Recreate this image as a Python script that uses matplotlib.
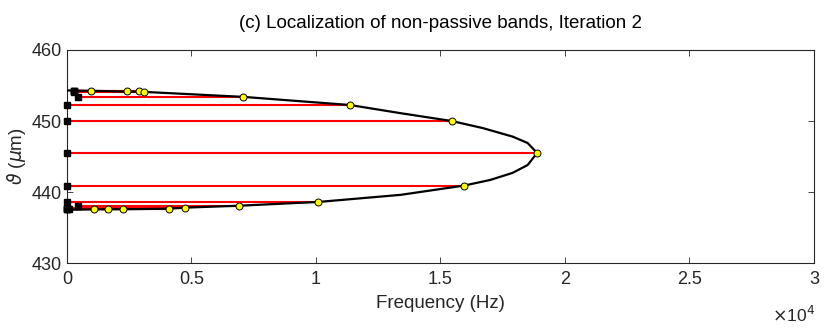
import matplotlib
matplotlib.use("Agg")
import matplotlib.pyplot as plt
from matplotlib.ticker import FuncFormatter
import numpy as np

plt.rcParams["font.family"] = ["Liberation Sans", "DejaVu Sans"]
plt.rcParams["mathtext.fontset"] = "dejavusans"

# band edges: theta (um), start frequency (Hz, black square), end frequency (Hz, yellow dot)
band_theta = [454.2, 454.2, 454.2, 454.1, 453.4, 452.25, 450.0, 445.5,
              440.9, 438.6, 438.07, 437.8, 437.65, 437.56, 437.56, 437.56]
band_fstart = [300, 300, 300, 300, 450, 0, 0, 0,
               0, 0, 450, 0, 0, 0, 0, 100]
band_fend = [960, 2400, 2900, 3100, 7070, 11370, 15450, 18880,
             15940, 10100, 6920, 4740, 4100, 2240, 1630, 1100]

# boundary curve of the non-passive region
curve_freq = [0, 1100, 2240, 4100, 4740, 6920, 10100, 13400, 15940, 17000,
              17900, 18500, 18880, 18500, 17900, 16700, 15450, 13400, 11370,
              7070, 3100, 1000, 0]
curve_theta = [437.5, 437.56, 437.57, 437.65, 437.8, 438.07, 438.6, 439.6, 440.9, 441.7,
               442.7, 443.8, 445.5, 446.9, 447.8, 449.0, 450.0, 451.1, 452.25,
               453.4, 454.1, 454.25, 454.3]

fig = plt.figure(figsize=(8.3, 3.3), dpi=100)
ax = fig.add_axes([0.0807, 0.203, 0.9, 0.6455])

for th, f0, f1 in zip(band_theta, band_fstart, band_fend):
    ax.plot([f0, f1], [th, th], color="red", lw=1.5, zorder=2)
ax.plot(curve_freq, curve_theta, color="black", lw=1.6, zorder=3)
ax.plot(band_fstart, band_theta, "s", color="black", ms=5, zorder=4, clip_on=False)
ax.plot(band_fend, band_theta, "o", mfc="yellow", mec="black", mew=0.7, ms=5, zorder=5)

ax.set_xlim(0, 30000)
ax.set_ylim(430, 460)
ax.set_xticks(np.arange(0, 30001, 5000))
ax.set_yticks([430, 440, 450, 460])
ax.xaxis.set_major_formatter(FuncFormatter(lambda v, p: "%g" % (v / 1e4)))

grey = "#262626"
for s in ax.spines.values():
    s.set_color(grey)
    s.set_linewidth(0.8)
ax.tick_params(direction="in", length=4, width=0.6, colors=grey, labelsize=13,
               top=True, right=True, labelcolor=grey)
ax.tick_params(axis="x", pad=6)
ax.tick_params(axis="y", pad=4)

ax.set_xlabel("Frequency (Hz)", fontsize=13.5, color=grey, labelpad=5)
ax.set_ylabel(r"$\vartheta$ ($\mu$m)", fontsize=13.5, color=grey, labelpad=2)
ax.set_title("(c) Localization of non-passive bands, Iteration 2", fontsize=13.5,
             color="black", pad=16)
fig.text(0.982, 0.045, r"$\times$10$^4$", ha="right", va="center", fontsize=12.5, color=grey)

fig.savefig("out.png", dpi=100)
